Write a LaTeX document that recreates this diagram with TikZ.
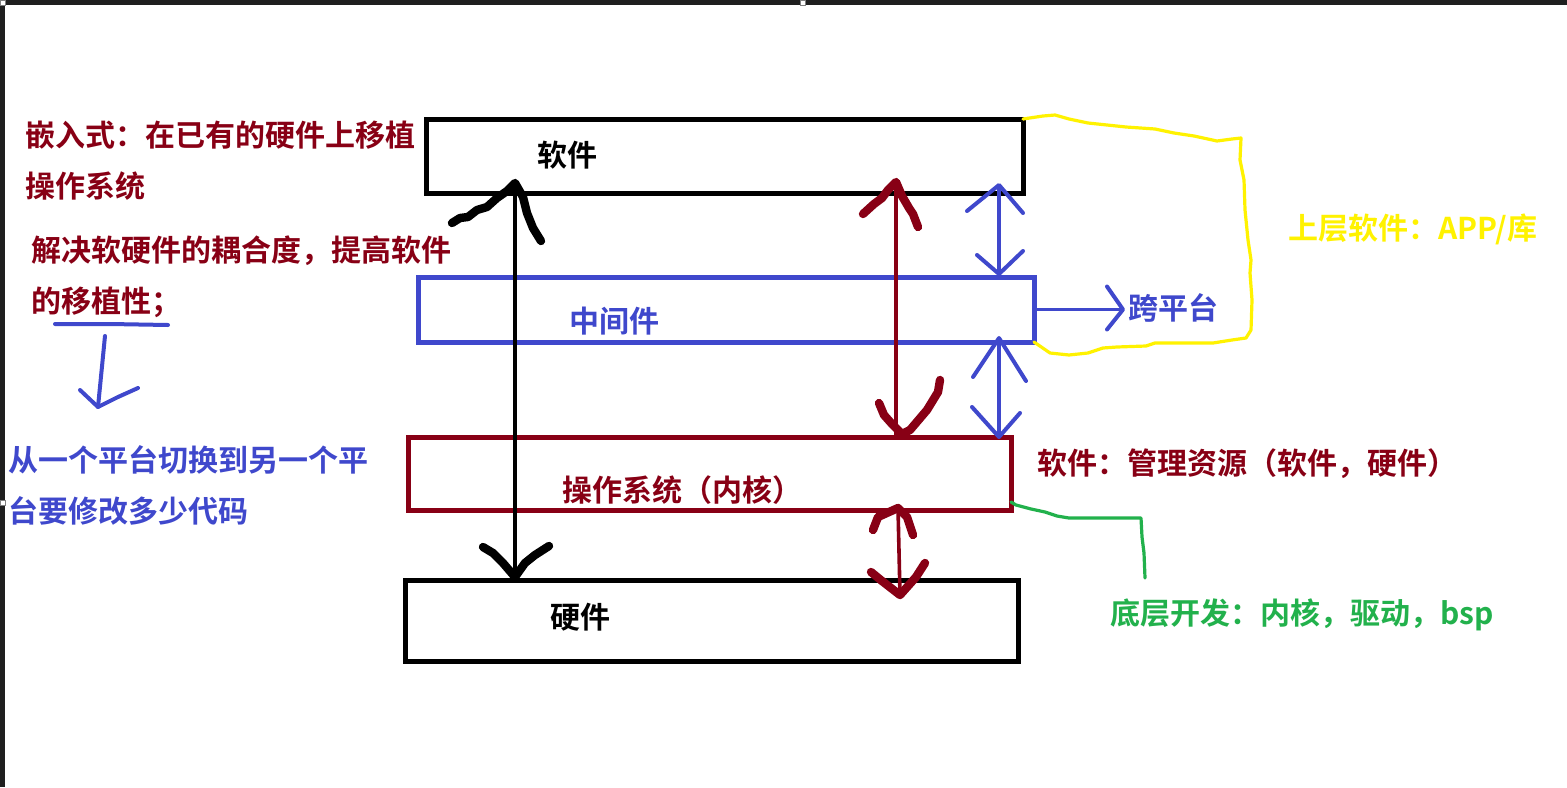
\documentclass[tikz,border=0pt]{standalone}
\usepackage{fontspec}
\setmainfont{Noto Sans CJK SC}[BoldFont=* Bold]
\usepackage{tikz}
\definecolor{PaintRed}{RGB}{136,0,21}
\definecolor{PaintBlue}{RGB}{63,72,204}
\definecolor{PaintGreen}{RGB}{34,177,76}
\definecolor{PaintYellow}{RGB}{255,242,0}
\definecolor{FrameGray}{RGB}{31,31,31}

\begin{document}
\begin{tikzpicture}[
  x=0.5pt, y=-0.5pt,
  font=\bfseries\fontsize{15}{25.5}\selectfont,
  layer/.style={
    rectangle,
    draw,
    line width=2.5pt,
    outer sep=0pt,
    inner sep=0pt
  },
  tag/.style={inner sep=0pt, anchor=west},
  para/.style={inner sep=0pt, anchor=north west, align=left},
  shaft/.style={line width=1.8pt},
  barb/.style={line width=4.2pt, line cap=round, line join=round},
  thinbarb/.style={line width=2pt, line cap=round, line join=round},
  scribble/.style={line width=1.6pt, line cap=round, line join=round}
]

  \useasboundingbox (0,0) rectangle (1567,787);
  \fill[white] (0,0) rectangle (1567,787);
  \fill[FrameGray] (0,0) rectangle (1567,5);
  \fill[FrameGray] (0,0) rectangle (5,787);
  \foreach \hx/\hy in {0/0, 800/0, 0/500}
    \filldraw[fill=white, draw=gray, line width=0.4pt] (\hx+0.5,\hy+0.5) rectangle ++(5,5);

  % the four layers
  \node[layer, draw=black, minimum width=298.5pt, minimum height=37pt] (soft) at (724.5,156) {};
  \node[layer, draw=PaintBlue, minimum width=308pt, minimum height=32.5pt] (mid) at (726,309.5) {};
  \node[layer, draw=PaintRed, minimum width=301.5pt, minimum height=36.5pt] (os) at (709.5,473.5) {};
  \node[layer, draw=black, minimum width=306.5pt, minimum height=40.5pt] (hard) at (711.5,620.5) {};

  \node[tag] (softtxt) at (537,155) {软件};
  \node[tag, PaintBlue] (midtxt) at (569,321) {中间件};
  \node[tag, PaintRed] (ostxt) at (562,490) {操作系统（内核）};
  \node[tag] (hardtxt) at (550,617) {硬件};

  \coordinate (BlackX)  at (515,0);
  \coordinate (RedX)    at (896,0);
  \coordinate (LowRedX) at (898,0);
  \coordinate (BlueX)   at (999,0);

  % software <-> hardware
  \path (soft.south -| BlackX) ++(0,-10) coordinate (BlackUp);
  \path (hard.north -| BlackX) ++(0,-3) coordinate (BlackDown);
  \draw[shaft] (BlackUp) -- (hard.north -| BlackX);
  \draw[barb, shift={(BlackUp)}] (-63,40) -- (-55,35) -- (-47,34) -- (-38,27) -- (-28,24) -- (-18,15)
    -- (-8,8) -- (0,0) -- (8,14) -- (12,30) -- (18,45) -- (26,58);
  \draw[barb, shift={(BlackDown)}] (-32,-30) -- (-22,-24) -- (-12,-14) -- (0,0) -- (10,-14) -- (20,-22) -- (34,-31);

  % software <-> os
  \path (soft.south -| RedX) ++(0,-11) coordinate (RedUp);
  \path (os.north -| RedX) ++(6,-3) coordinate (RedDown);
  \draw[shaft, PaintRed] (RedUp) -- (os.north -| RedX);
  \draw[barb, PaintRed, shift={(RedUp)}] (-33,32) -- (-22,22) -- (-14,16) -- (-8,8) -- (0,0)
    -- (6,14) -- (13,26) -- (17,32) -- (22,45);
  \draw[barb, PaintRed, shift={(RedDown)}] (-23,-31) -- (-18,-19) -- (-10,-10) -- (0,0)
    -- (8,-4) -- (25,-24) -- (36,-42) -- (38,-54);

  % os <-> hardware
  \path (os.south -| LowRedX) ++(0,-2) coordinate (LowRedUp);
  \path (hard.north -| LowRedX) ++(2,15) coordinate (LowRedDown);
  \draw[shaft, PaintRed] (LowRedUp) -- (LowRedDown);
  \draw[barb, PaintRed, shift={(LowRedUp)}] (-25,22) -- (-20,9) -- (-9,4) -- (0,0) -- (9,9) -- (15,27);
  \draw[barb, PaintRed, shift={(LowRedDown)}] (-29,-23) -- (-18,-14) -- (0,0) -- (16,-18) -- (25,-32);

  % software <-> middleware <-> os
  \path (soft.south -| BlueX) ++(0,-8) coordinate (BlueUp);
  \path (mid.north -| BlueX) ++(0,-3) coordinate (BlueDown);
  \path (mid.south -| BlueX) ++(0,-4) coordinate (BlueUp2);
  \path (os.north -| BlueX) coordinate (BlueDown2);
  \draw[shaft, PaintBlue] (BlueUp) -- (mid.north -| BlueX);
  \draw[thinbarb, PaintBlue, shift={(BlueUp)}] (-32,26) -- (0,0) -- (24,28);
  \draw[thinbarb, PaintBlue, shift={(BlueDown)}] (-22,-19) -- (0,0) -- (24,-23);
  \draw[shaft, PaintBlue] (BlueUp2) -- (BlueDown2);
  \draw[thinbarb, PaintBlue, shift={(BlueUp2)}] (-26,39) -- (0,0) -- (27,43);
  \draw[thinbarb, PaintBlue, shift={(BlueDown2)}] (-27,-30) -- (0,0) -- (21,-24);

  % cross platform
  \node[tag, PaintBlue] (cross) at (1128,308) {跨平台};
  \coordinate (CrossTip) at (1123,309.5);
  \draw[shaft, PaintBlue] (mid.east) -- (CrossTip);
  \draw[thinbarb, PaintBlue, shift={(CrossTip)}] (-16,-23) -- (0,0) -- (-16,20);

  % notes on the left
  \node[para, PaintRed] (embed) at (25,121) {嵌入式：在已有的硬件上移植\\操作系统};
  \node[para, PaintRed] (decouple) at (31,235) {解决软硬件的耦合度，提高软件\\的移植性；};
  \node[para, PaintBlue] (switch) at (8,445) {从一个平台切换到另一个平\\台要修改多少代码};

  \coordinate (UnderL) at (55,324);
  \coordinate (UnderR) at (168,325);
  \coordinate (DownTail) at (105,336);
  \coordinate (DownTip) at (98,407);
  \draw[thinbarb, PaintBlue] (UnderL) -- (110,324) -- (UnderR);
  \draw[thinbarb, PaintBlue] (DownTail) -- (DownTip);
  \draw[thinbarb, PaintBlue, shift={(DownTip)}] (-18,-17) -- (0,0) -- (20,-10) -- (40,-19);

  % notes on the right
  \node[tag, PaintYellow] (upper) at (1288,229) {上层软件：APP/库};
  \node[tag, PaintRed] (osnote) at (1037,464) {软件：管理资源（软件，硬件）};
  \node[tag, PaintGreen] (lower) at (1110,615) {底层开发：内核，驱动，bsp};

  \draw[scribble, PaintYellow] (soft.north east) -- (1043,116) -- (1055,115) -- (1069,119) -- (1088,123)
    -- (1107,125) -- (1126,127) -- (1155,129) -- (1174,133) -- (1194,136) -- (1217,141) -- (1232,139)
    -- (1241,138) -- (1240,160) -- (1244,180) -- (1245,210) -- (1248,240) -- (1251,260) -- (1250,273)
    -- (1252,300) -- (1251,330) -- (1246,338) -- (1232,340) -- (1213,343) -- (1155,343) -- (1146,346)
    -- (1117,347) -- (1103,348) -- (1088,353) -- (1069,355) -- (1050,353) -- (mid.south east);

  \coordinate (GreenEnd) at (1145,578);
  \draw[scribble, PaintGreen] ([yshift=4pt]os.south east) -- (1016,505) -- (1031,509) -- (1045,512)
    -- (1057,516) -- (1069,518) -- (1141,518) -- (1142,537) -- (1144,553) -- (GreenEnd);

\end{tikzpicture}
\end{document}
